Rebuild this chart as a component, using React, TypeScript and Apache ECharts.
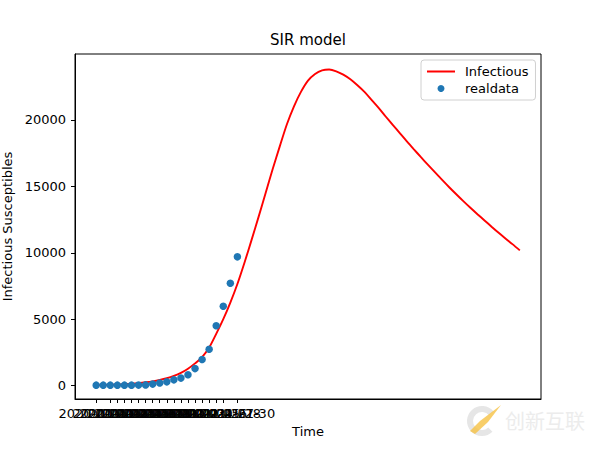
import React, { useEffect, useRef } from "react";
import * as echarts from "echarts";

// Dates of the real observations (categorical ticks 0..20)
const dateLabels: string[] = [
  "2020-01-10", "2020-01-11", "2020-01-12", "2020-01-13", "2020-01-14",
  "2020-01-15", "2020-01-16", "2020-01-17", "2020-01-18", "2020-01-19",
  "2020-01-20", "2020-01-21", "2020-01-22", "2020-01-23", "2020-01-24",
  "2020-01-25", "2020-01-26", "2020-01-27", "2020-01-28", "2020-01-29",
  "2020-01-30",
];

// Observed infections (blue dots)
const realdata: number[] = [
  41, 41, 41, 41, 41, 41, 45, 62, 121, 198, 291,
  440, 571, 830, 1287, 1975, 2744, 4515, 5974, 7711, 9692,
];

// Model "Infectious" curve, one value per day 0..60
const infectious: number[] = [
  40, 52, 68, 88, 115, 150, 195, 255, 330, 430,
  560, 735, 965, 1280, 1680, 2150, 2870, 3900, 5000, 6250,
  7650, 9250, 10950, 12700, 14500, 16300, 18000, 19650, 21000, 22100,
  22950, 23450, 23720, 23780, 23650, 23400, 23050, 22600, 22100, 21500,
  20900, 20250, 19620, 19000, 18380, 17780, 17190, 16610, 16040, 15480,
  14930, 14400, 13880, 13380, 12900, 12430, 11960, 11500, 11060, 10630,
  10180,
];

const yTicks: number[] = [0, 5000, 10000, 15000, 20000];

const FONT = "DejaVu Sans";

export default function App() {
  const ref = useRef<HTMLDivElement>(null);

  useEffect(() => {
    if (!ref.current) return;
    const chart = echarts.init(ref.current, undefined, { renderer: "svg" });
    const tickIdx = dateLabels.map((_, i) => i);

    chart.setOption({
      animation: false,
      backgroundColor: "#ffffff",
      title: {
        text: "SIR model",
        left: 270,
        top: 32,
        padding: 0,
        textStyle: { fontFamily: FONT, fontSize: 15, fontWeight: "normal", color: "#000" },
      },
      legend: {
        orient: "vertical",
        left: 421,
        top: 60,
        padding: [5, 7, 5, 6],
        itemWidth: 28,
        itemHeight: 7,
        itemGap: 4,
        backgroundColor: "#ffffff",
        borderColor: "#d0d0d0",
        borderWidth: 1,
        borderRadius: 3,
        textStyle: { fontFamily: FONT, fontSize: 13, color: "#000", padding: [0, 0, 0, 5] },
        data: [
          { name: "Infectious", icon: "path://M0,0H28V2H0Z" },
          { name: "realdata", icon: "circle" },
        ],
      },
      grid: {
        left: 75,
        right: 59,
        top: 54,
        bottom: 51,
        show: true,
        borderColor: "#000",
        borderWidth: 1,
        backgroundColor: "transparent",
        outerBoundsMode: "none",
      },
      xAxis: {
        type: "value",
        min: -3,
        max: 63,
        name: "Time",
        nameLocation: "middle",
        nameGap: 26,
        nameTextStyle: { fontFamily: FONT, fontSize: 13, color: "#000" },
        axisLine: { show: true, onZero: false, lineStyle: { color: "#000", width: 1 } },
        splitLine: { show: false },
        axisTick: {
          show: true,
          inside: false,
          length: 4,
          lineStyle: { color: "#000" },
          customValues: tickIdx,
        },
        axisLabel: {
          show: true,
          margin: 8,
          fontFamily: FONT,
          fontSize: 13,
          color: "#000",
          hideOverlap: false,
          showMinLabel: true,
          showMaxLabel: true,
          customValues: tickIdx,
          formatter: (v: number) => dateLabels[Math.round(v)] ?? "",
        },
      },
      yAxis: {
        type: "value",
        min: -1000,
        max: 24950,
        name: "Infectious Susceptibles",
        nameLocation: "middle",
        nameGap: 46,
        nameTextStyle: { fontFamily: FONT, fontSize: 13, color: "#000" },
        axisLine: { show: true, onZero: false, lineStyle: { color: "#000", width: 1 } },
        splitLine: { show: false },
        axisTick: {
          show: true,
          inside: false,
          length: 4,
          lineStyle: { color: "#000" },
          customValues: yTicks,
        },
        axisLabel: {
          show: true,
          margin: 9,
          fontFamily: FONT,
          fontSize: 13,
          color: "#000",
          showMinLabel: true,
          showMaxLabel: true,
          customValues: yTicks,
          formatter: (v: number) => String(v),
        },
      },
      series: [
        {
          name: "Infectious",
          type: "line",
          data: infectious.map((v, i) => [i, v]),
          symbol: "none",
          showSymbol: false,
          smooth: 0.3,
          lineStyle: { color: "#ff0000", width: 1.9 },
          itemStyle: { color: "#ff0000" },
          z: 2,
        },
        {
          name: "realdata",
          type: "scatter",
          data: realdata.map((v, i) => [i, v]),
          symbol: "circle",
          symbolSize: 7.5,
          itemStyle: { color: "#1f77b4", opacity: 1 },
          z: 3,
        },
      ],
      graphic: [
        {
          type: "arc",
          shape: { cx: 482, cy: 421, r: 12, startAngle: 0.8, endAngle: 5.6 },
          style: { stroke: "#e6e6e6", lineWidth: 6, fill: "none" },
          silent: true,
        },
        {
          type: "polygon",
          shape: { points: [[470, 431], [480, 421], [501, 405], [488, 422], [475, 434]] },
          style: { fill: "#f6c244", opacity: 0.8 },
          silent: true,
        },
        {
          type: "text",
          x: 505,
          y: 420,
          style: {
            text: "创新互联",
            fill: "#ececec",
            font: '20px "Noto Sans CJK SC"',
            textVerticalAlign: "middle",
          },
          silent: true,
        },
      ],
    });

    return () => chart.dispose();
  }, []);

  return (
    <div
      ref={ref}
      style={{ position: "fixed", left: 0, top: 0, width: 600, height: 450, background: "#fff" }}
    />
  );
}
